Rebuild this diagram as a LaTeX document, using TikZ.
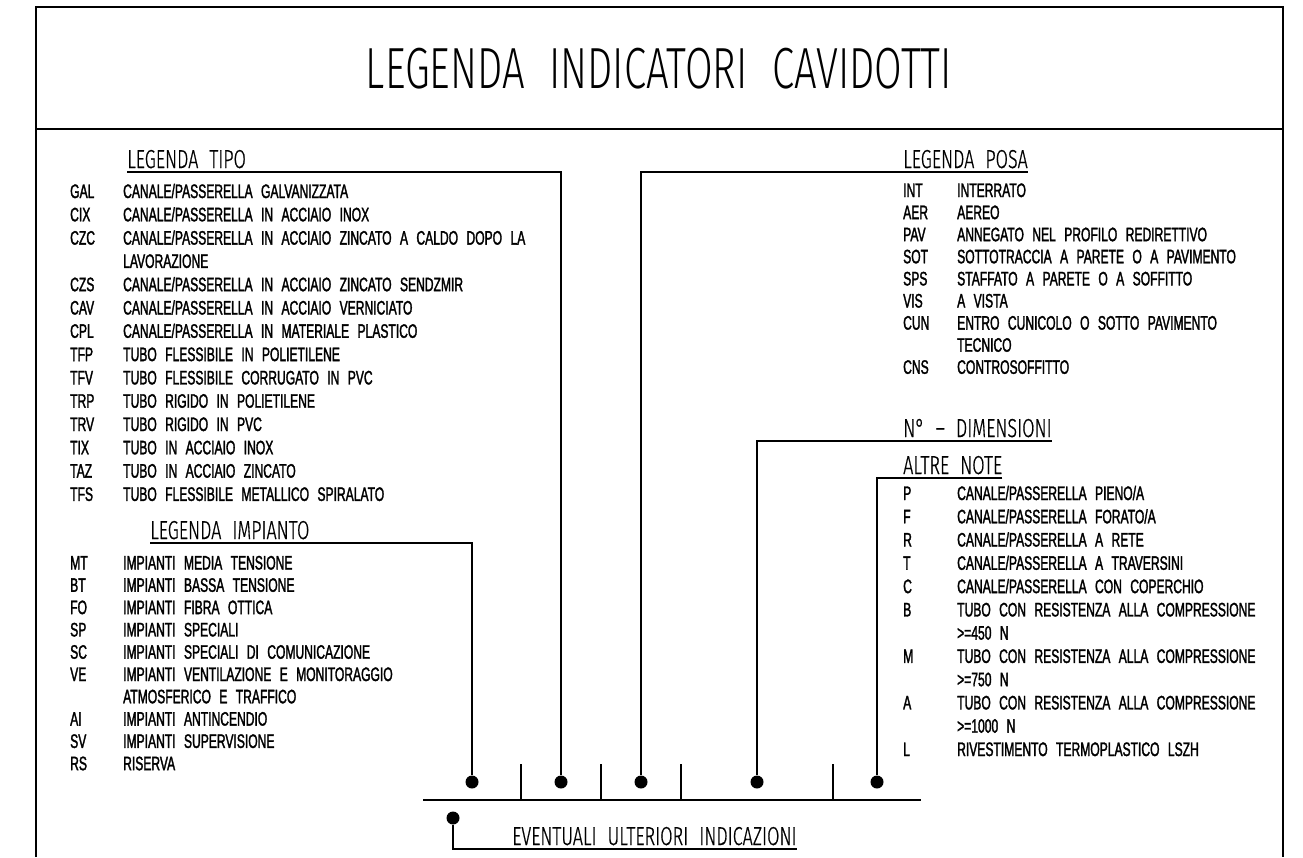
\documentclass[tikz,border=0pt]{standalone}
\usepackage{fontspec}
\usepackage{tikz}
\newfontfamily\cadfont[FakeStretch=0.62,FakeBold=1.6,WordSpace=2.5]{Liberation Sans}
\newfontfamily\cadthin[FakeStretch=0.69,WordSpace=2.2]{Fira Sans Light}
\newfontfamily\cadhead[FakeStretch=0.69,FakeBold=0.6,WordSpace=2.2]{Fira Sans Light}

\begin{document}
\begin{tikzpicture}[x=1pt, y=-1pt,
    row/.style={anchor=base west, inner sep=0, font=\cadfont\fontsize{19.5}{20}\selectfont},
    hdr/.style={inner xsep=0, inner ysep=3.5, font=\cadhead\fontsize{26}{26}\selectfont},
    lead/.style={line width=1.6pt},
    dot/.style={circle, fill, minimum size=13, inner sep=0}]
                \useasboundingbox (0,0) rectangle (1303,857);
                % frame
                \draw[line width=1.3pt] (36,857) |- (1283,7) -- (1283,857);
                \draw[line width=1.8pt] (36,129) -- (1283,129);
                \node[font=\cadthin\fontsize{58}{58}\selectfont, anchor=base, inner sep=0] (title) at (659,88) {LEGENDA INDICATORI CAVIDOTTI};

                % left column
                \node[hdr, anchor=south west] (tipoHdr) at (127,172) {LEGENDA TIPO};
                \node[row] (tGAL) at (70,198) {\makebox[53pt][l]{GAL}CANALE/PASSERELLA GALVANIZZATA};
                \node[row] (tCIX) at (70,221.3) {\makebox[53pt][l]{CIX}CANALE/PASSERELLA IN ACCIAIO INOX};
                \node[row] (tCZC) at (70,244.6) {\makebox[53pt][l]{CZC}CANALE/PASSERELLA IN ACCIAIO ZINCATO A CALDO DOPO LA};
                \node[row] (tCZC2) at (123,267.9) {LAVORAZIONE};
                \node[row] (tCZS) at (70,291.2) {\makebox[53pt][l]{CZS}CANALE/PASSERELLA IN ACCIAIO ZINCATO SENDZMIR};
                \node[row] (tCAV) at (70,314.5) {\makebox[53pt][l]{CAV}CANALE/PASSERELLA IN ACCIAIO VERNICIATO};
                \node[row] (tCPL) at (70,337.8) {\makebox[53pt][l]{CPL}CANALE/PASSERELLA IN MATERIALE PLASTICO};
                \node[row] (tTFP) at (70,361.1) {\makebox[53pt][l]{TFP}TUBO FLESSIBILE IN POLIETILENE};
                \node[row] (tTFV) at (70,384.4) {\makebox[53pt][l]{TFV}TUBO FLESSIBILE CORRUGATO IN PVC};
                \node[row] (tTRP) at (70,407.7) {\makebox[53pt][l]{TRP}TUBO RIGIDO IN POLIETILENE};
                \node[row] (tTRV) at (70,431) {\makebox[53pt][l]{TRV}TUBO RIGIDO IN PVC};
                \node[row] (tTIX) at (70,454.3) {\makebox[53pt][l]{TIX}TUBO IN ACCIAIO INOX};
                \node[row] (tTAZ) at (70,477.6) {\makebox[53pt][l]{TAZ}TUBO IN ACCIAIO ZINCATO};
                \node[row] (tTFS) at (70,500.9) {\makebox[53pt][l]{TFS}TUBO FLESSIBILE METALLICO SPIRALATO};

                \node[hdr, anchor=south west] (impHdr) at (150,543) {LEGENDA IMPIANTO};
                \node[row] (iMT) at (70,569.5) {\makebox[53pt][l]{MT}IMPIANTI MEDIA TENSIONE};
                \node[row] (iBT) at (70,591.8) {\makebox[53pt][l]{BT}IMPIANTI BASSA TENSIONE};
                \node[row] (iFO) at (70,614.1) {\makebox[53pt][l]{FO}IMPIANTI FIBRA OTTICA};
                \node[row] (iSP) at (70,636.4) {\makebox[53pt][l]{SP}IMPIANTI SPECIALI};
                \node[row] (iSC) at (70,658.7) {\makebox[53pt][l]{SC}IMPIANTI SPECIALI DI COMUNICAZIONE};
                \node[row] (iVE) at (70,681) {\makebox[53pt][l]{VE}IMPIANTI VENTILAZIONE E MONITORAGGIO};
                \node[row] (iVE2) at (123,703.3) {ATMOSFERICO E TRAFFICO};
                \node[row] (iAI) at (70,725.6) {\makebox[53pt][l]{AI}IMPIANTI ANTINCENDIO};
                \node[row] (iSV) at (70,747.9) {\makebox[53pt][l]{SV}IMPIANTI SUPERVISIONE};
                \node[row] (iRS) at (70,770.2) {\makebox[53pt][l]{RS}RISERVA};

                % right column
                \node[hdr, anchor=south west] (posaHdr) at (903,172) {LEGENDA POSA};
                \node[row] (pINT) at (903,197) {\makebox[54pt][l]{INT}INTERRATO};
                \node[row] (pAER) at (903,219.1) {\makebox[54pt][l]{AER}AEREO};
                \node[row] (pPAV) at (903,241.2) {\makebox[54pt][l]{PAV}ANNEGATO NEL PROFILO REDIRETTIVO};
                \node[row] (pSOT) at (903,263.3) {\makebox[54pt][l]{SOT}SOTTOTRACCIA A PARETE O A PAVIMENTO};
                \node[row] (pSPS) at (903,285.4) {\makebox[54pt][l]{SPS}STAFFATO A PARETE O A SOFFITTO};
                \node[row] (pVIS) at (903,307.5) {\makebox[54pt][l]{VIS}A VISTA};
                \node[row] (pCUN) at (903,329.6) {\makebox[54pt][l]{CUN}ENTRO CUNICOLO O SOTTO PAVIMENTO};
                \node[row] (pCUN2) at (957,351.7) {TECNICO};
                \node[row] (pCNS) at (903,373.8) {\makebox[54pt][l]{CNS}CONTROSOFFITTO};

                \node[hdr, anchor=south west] (dimHdr) at (903,441) {N° – DIMENSIONI};

                \node[hdr, anchor=south west] (altHdr) at (903,478) {ALTRE NOTE};
                \node[row] (aP) at (903,500) {\makebox[54pt][l]{P}CANALE/PASSERELLA PIENO/A};
                \node[row] (aF) at (903,523.3) {\makebox[54pt][l]{F}CANALE/PASSERELLA FORATO/A};
                \node[row] (aR) at (903,546.5) {\makebox[54pt][l]{R}CANALE/PASSERELLA A RETE};
                \node[row] (aT) at (903,569.8) {\makebox[54pt][l]{T}CANALE/PASSERELLA A TRAVERSINI};
                \node[row] (aC) at (903,593.1) {\makebox[54pt][l]{C}CANALE/PASSERELLA CON COPERCHIO};
                \node[row] (aB) at (903,616.4) {\makebox[54pt][l]{B}TUBO CON RESISTENZA ALLA COMPRESSIONE};
                \node[row] (aB2) at (957,639.6) {>=450 N};
                \node[row] (aM) at (903,662.9) {\makebox[54pt][l]{M}TUBO CON RESISTENZA ALLA COMPRESSIONE};
                \node[row] (aM2) at (957,686.2) {>=750 N};
                \node[row] (aA) at (903,709.4) {\makebox[54pt][l]{A}TUBO CON RESISTENZA ALLA COMPRESSIONE};
                \node[row] (aA2) at (957,732.7) {>=1000 N};
                \node[row] (aL) at (903,756) {\makebox[54pt][l]{L}RIVESTIMENTO TERMOPLASTICO LSZH};

                % code bar
                \coordinate (barL) at (423,800);
                \coordinate (barR) at (921,800);
                \draw[lead] (barL) -- (barR);
                \draw[lead] (521,764) -- (521,800);
                \draw[lead] (601,764) -- (601,800);
                \draw[lead] (681,764) -- (681,800);
                \draw[lead] (833,764) -- (833,800);

                \node[dot] (impDot) at (472,782) {};
                \node[dot] (tipoDot) at (561,782) {};
                \node[dot] (posaDot) at (641,782) {};
                \node[dot] (dimDot) at (757,782) {};
                \node[dot] (altDot) at (877,782) {};
                \node[dot] (evDot) at (453,818) {};

                \draw[lead] (impHdr.south west) -| (impDot);
                \draw[lead] (tipoHdr.south west) -| (tipoDot);
                \draw[lead] (posaHdr.south east) -| (posaDot);
                \draw[lead] (dimHdr.south east) -| (dimDot);
                \draw[lead] (altHdr.south east) -| (altDot);

                \node[hdr, anchor=south west] (evHdr) at (512,849) {EVENTUALI ULTERIORI INDICAZIONI};
                \draw[lead] (evDot) |- (evHdr.south east);
\end{tikzpicture}
\end{document}
